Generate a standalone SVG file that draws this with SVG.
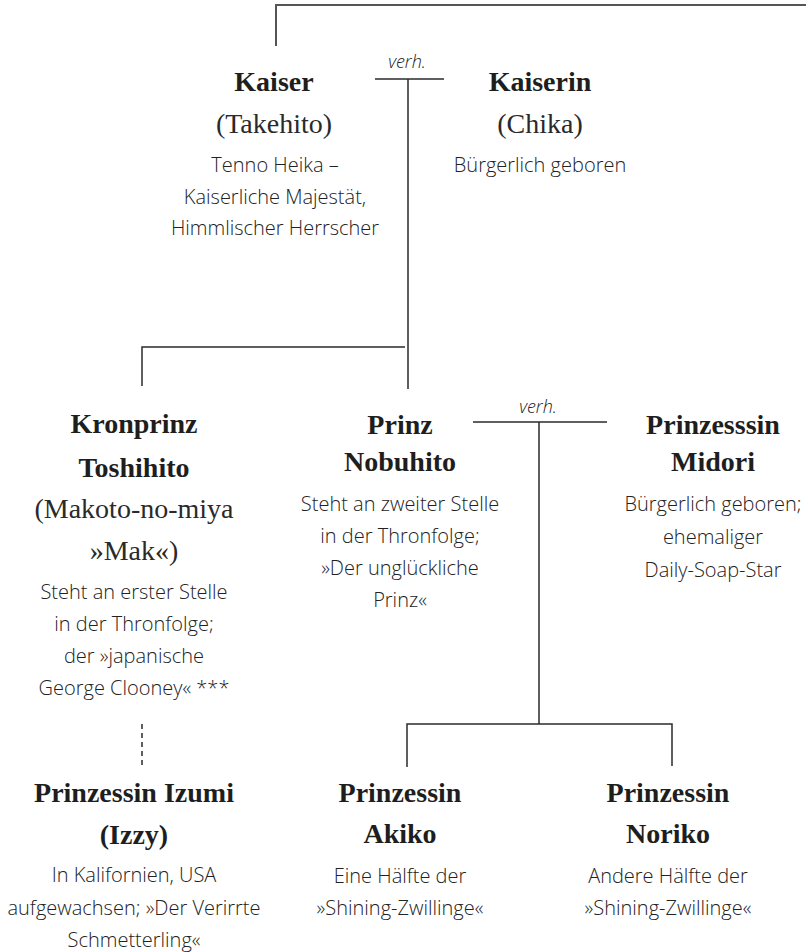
<svg xmlns="http://www.w3.org/2000/svg" width="806" height="952" viewBox="0 0 806 952">
<style>
.t{font-family:"Liberation Serif","Times New Roman",serif;font-weight:bold;font-size:28px;fill:#1e1e1e;text-anchor:middle}
.s{font-family:"Liberation Serif","Times New Roman",serif;font-size:28px;fill:#2a2a2a;text-anchor:middle}
.b{font-family:"Open Sans","Liberation Sans",Arial,sans-serif;font-weight:300;font-size:20px;fill:#222;text-anchor:middle}
.v{font-family:"Open Sans","Liberation Sans",Arial,sans-serif;font-weight:300;font-style:italic;font-size:18px;fill:#222;text-anchor:middle}
.ln{fill:none;stroke:#2b2b2b;stroke-width:1.5}
.top{fill:none;stroke:#555;stroke-width:2}
.dash{fill:none;stroke:#2b2b2b;stroke-width:1.5;stroke-dasharray:5 4}
</style>
<g id="connectors">
<path class="top" d="M276 46 V5 H806"/>
<path class="ln" d="M375 79 H444 M408 79 V389"/>
<path class="ln" d="M142 386 V347 H405"/>
<path class="ln" d="M473 422 H607 M539 422 V724"/>
<path class="ln" d="M407 767 V724 H672 V766"/>
<path class="dash" d="M142 724 V767"/>
<text class="v" x="407" y="68">verh.</text>
<text class="v" x="538" y="413">verh.</text>
</g>
<g id="kaiser">
<text class="t" x="274" y="91">Kaiser</text>
<text class="s" x="274" y="133">(Takehito)</text>
<text class="b" x="275" y="172">Tenno Heika –</text>
<text class="b" x="275" y="203.5">Kaiserliche Majestät,</text>
<text class="b" x="275" y="235">Himmlischer Herrscher</text>
</g>
<g id="kaiserin">
<text class="t" x="540" y="91">Kaiserin</text>
<text class="s" x="540" y="133">(Chika)</text>
<text class="b" x="540" y="172">Bürgerlich geboren</text>
</g>
<g id="toshihito">
<text class="t" x="134" y="433">Kronprinz</text>
<text class="t" x="134" y="477">Toshihito</text>
<text class="s" x="134" y="518">(Makoto-no-miya</text>
<text class="s" x="134" y="560">»Mak«)</text>
<text class="b" x="134" y="599">Steht an erster Stelle</text>
<text class="b" x="134" y="631">in der Thronfolge;</text>
<text class="b" x="134" y="663">der »japanische</text>
<text class="b" x="134" y="695">George Clooney« ***</text>
</g>
<g id="nobuhito">
<text class="t" x="400" y="434">Prinz</text>
<text class="t" x="400" y="471">Nobuhito</text>
<text class="b" x="400" y="511">Steht an zweiter Stelle</text>
<text class="b" x="400" y="543">in der Thronfolge;</text>
<text class="b" x="400" y="575">»Der unglückliche</text>
<text class="b" x="400" y="607">Prinz«</text>
</g>
<g id="midori">
<text class="t" x="713" y="434">Prinzesssin</text>
<text class="t" x="713" y="471">Midori</text>
<text class="b" x="713" y="511">Bürgerlich geboren;</text>
<text class="b" x="713" y="544">ehemaliger</text>
<text class="b" x="713" y="577">Daily-Soap-Star</text>
</g>
<g id="izumi">
<text class="t" x="134" y="802">Prinzessin Izumi</text>
<text class="t" x="134" y="844">(Izzy)</text>
<text class="b" x="134" y="882">In Kalifornien, USA</text>
<text class="b" x="134" y="915">aufgewachsen; »Der Verirrte</text>
<text class="b" x="134" y="947">Schmetterling«</text>
</g>
<g id="akiko">
<text class="t" x="400" y="802">Prinzessin</text>
<text class="t" x="400" y="843">Akiko</text>
<text class="b" x="400" y="883">Eine Hälfte der</text>
<text class="b" x="400" y="915">»Shining-Zwillinge«</text>
</g>
<g id="noriko">
<text class="t" x="668" y="802">Prinzessin</text>
<text class="t" x="668" y="843">Noriko</text>
<text class="b" x="668" y="883">Andere Hälfte der</text>
<text class="b" x="668" y="915">»Shining-Zwillinge«</text>
</g>
</svg>
